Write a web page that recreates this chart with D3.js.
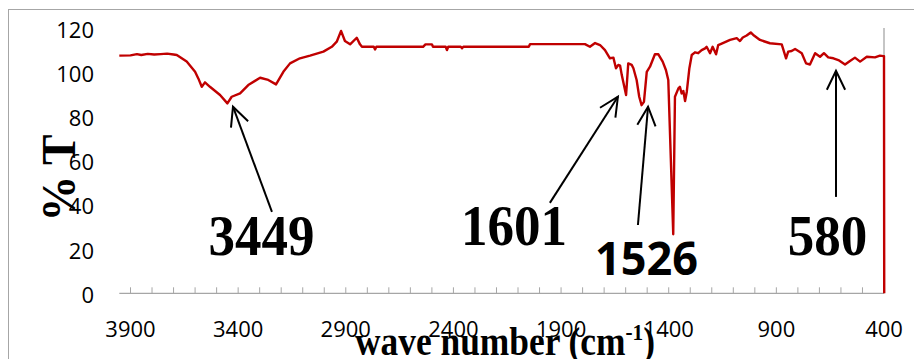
<!DOCTYPE html>
<meta charset="utf-8">
<style>
body { margin: 0; background: #fff; }
.tick-label { font: 22px "Open Sans", sans-serif; fill: #000; }
.title { font-family: "Liberation Serif", "Times New Roman", serif; font-weight: bold; fill: #000; }
</style>
<svg width="914" height="359"></svg>
<script src="https://d3js.org/d3.v7.min.js"></script>
<script>

// spectrum: wave number (cm-1) and % transmittance
var waves = [3952, 3900, 3870, 3850, 3820, 3790, 3760, 3730, 3700, 3685,
  3639, 3600, 3585, 3569, 3554, 3531, 3484, 3450, 3430, 3391,
  3353, 3298, 3260, 3224, 3190, 3159, 3113, 3066, 3004, 2965,
  2942, 2922, 2904, 2880, 2849, 2834, 2825, 2770, 2764, 2758,
  2541, 2530, 2500, 2495, 2436, 2430, 2424, 2366, 2360, 2354,
  2050, 2044, 1789, 1766, 1742, 1719, 1696, 1673, 1657, 1645,
  1634, 1626, 1618, 1598, 1588, 1572, 1564, 1549, 1537, 1526,
  1515, 1502, 1487, 1464, 1448, 1428, 1413, 1402, 1379, 1371,
  1355, 1348, 1340, 1332, 1324, 1316, 1304, 1293, 1278, 1263,
  1247, 1231, 1224, 1208, 1196, 1180, 1170, 1146, 1115, 1084,
  1069, 1056, 1038, 1019, 1004, 976, 930, 875, 855, 845,
  829, 813, 798, 782, 762, 744, 720, 697, 679, 659,
  635, 612, 581, 558, 535, 511, 480, 442, 419, 403,
  400, 399];

var trans = [107.5, 107.6, 108.2, 107.8, 108.3, 108.0, 108.2, 108.4, 108.0, 107.8,
  104.8, 100.2, 97.2, 93.4, 95.4, 93.4, 89.7, 85.9, 88.9, 90.4,
  94.2, 97.5, 96.5, 94.5, 100.2, 104.0, 106.3, 107.5, 109.3, 111.5,
  113.8, 118.7, 114.1, 112.6, 115.6, 112.6, 111.5, 111.5, 110.3, 111.5,
  111.5, 112.6, 112.6, 111.5, 111.5, 110.0, 111.5, 111.5, 110.8, 111.5,
  111.5, 112.7, 112.7, 111.5, 113.2, 112.3, 110.0, 106.3, 106.6, 101.8,
  103.3, 103.0, 98.7, 89.7, 104.0, 103.3, 101.8, 96.5, 88.9, 85.1,
  86.6, 100.2, 102.5, 108.1, 108.1, 104.8, 101.0, 96.5, 26.7, 88.9,
  92.7, 93.4, 90.4, 91.5, 87.0, 91.2, 101.8, 107.8, 109.0, 108.6,
  110.0, 110.8, 111.5, 108.6, 111.5, 108.1, 112.3, 113.3, 114.6, 115.4,
  114.1, 115.7, 116.6, 118.0, 116.6, 114.6, 113.1, 112.6, 106.3, 109.3,
  109.6, 110.5, 109.6, 108.6, 104.0, 103.5, 108.6, 107.0, 108.6, 106.7,
  106.3, 105.5, 103.5, 105.1, 106.6, 104.8, 107.0, 106.7, 107.5, 107.3,
  107.3, 0];

var yTicks = [0, 20, 40, 60, 80, 100, 120];
var xLabels = [3900, 3400, 2900, 2400, 1900, 1400, 900, 400];
var xMinor = d3.range(3900, 399, -100);

// peak labels; arrow head / tail and label anchor in data units
var peakLabels = ["3449", "1601", "1526", "580"];
var headWave = [3424, 1636, 1496, 623];
var headT = [84.4, 88.9, 84.4, 100.6];
var tailWave = [3243, 1952, 1543, 623];
var tailT = [36.8, 40.9, 30.9, 43.6];
var labelWave = [3292, 2119, 1503, 662];
var labelT = [17.3, 21.9, 8.3, 17.2];

var svg = d3.select("svg");

var x = d3.scaleLinear().domain([3900, 400]).range([130.5, 884]);
var y = d3.scaleLinear().domain([0, 120]).range([293.3, 28]);

// chart border (only top and left inside the picture)
svg.append("rect")
  .attr("x", 8.5).attr("y", 9.5)
  .attr("width", 1000).attr("height", 1000)
  .attr("fill", "none").attr("stroke", "#a6a6a6").attr("stroke-width", 1);

// x axis line with inside ticks
svg.append("line")
  .attr("x1", x(waves[0])).attr("x2", x(400))
  .attr("y1", y(0)).attr("y2", y(0))
  .attr("stroke", "#a6a6a6").attr("stroke-width", 1.3);

svg.append("g").selectAll("line")
  .data(xMinor)
  .enter().append("line")
  .attr("x1", function(d) { return x(d); })
  .attr("x2", function(d) { return x(d); })
  .attr("y1", y(0)).attr("y2", y(0) - 6)
  .attr("stroke", "#a6a6a6").attr("stroke-width", 1);

// y axis sits on the right because the x axis is reversed
svg.append("line")
  .attr("x1", x(400)).attr("x2", x(400))
  .attr("y1", y(0)).attr("y2", y(120))
  .attr("stroke", "#a6a6a6").attr("stroke-width", 1.3);

svg.append("g").selectAll("text")
  .data(yTicks)
  .enter().append("text")
  .attr("class", "tick-label")
  .attr("text-anchor", "end")
  .attr("x", 94)
  .attr("y", function(d) { return y(d) + 9.5; })
  .text(function(d) { return d; });

svg.append("g").selectAll("text")
  .data(xLabels)
  .enter().append("text")
  .attr("class", "tick-label")
  .attr("text-anchor", "middle")
  .attr("x", function(d) { return x(d); })
  .attr("y", 337)
  .text(function(d) { return d; });

// spectrum
var pts = waves.map(function(w, i) { return [w, trans[i]]; });
var line = d3.line()
  .x(function(d) { return x(d[0]); })
  .y(function(d) { return y(d[1]); });

svg.append("path")
  .datum(pts)
  .attr("d", line)
  .attr("fill", "none")
  .attr("stroke", "#c00000")
  .attr("stroke-width", 2.4)
  .attr("stroke-linejoin", "round");

// axis titles
svg.append("text")
  .attr("class", "title")
  .attr("transform", "translate(75,178) rotate(-90)")
  .attr("text-anchor", "middle")
  .attr("font-size", 48)
  .attr("textLength", 87)
  .attr("lengthAdjust", "spacingAndGlyphs")
  .text("% T");

var xt = svg.append("text")
  .attr("class", "title")
  .attr("x", 355).attr("y", 355)
  .attr("font-size", 40)
  .attr("textLength", 300)
  .attr("lengthAdjust", "spacingAndGlyphs");
xt.append("tspan").text("wave number (cm");
xt.append("tspan").attr("font-size", 24).attr("dy", -15).text("-1");
xt.append("tspan").attr("dy", 15).text(")");

// arrows and peak labels
var ann = svg.append("g");
peakLabels.forEach(function(lbl, i) {
  var hx = x(headWave[i]), hy = y(headT[i]);
  var tx = x(tailWave[i]), ty = y(tailT[i]);
  var ang = Math.atan2(ty - hy, tx - hx);
  var len = 21, spread = 0.45;
  ann.append("line")
    .attr("x1", tx).attr("y1", ty).attr("x2", hx).attr("y2", hy)
    .attr("stroke", "#000").attr("stroke-width", 2);
  ann.append("polyline")
    .attr("points", [
      [hx + len * Math.cos(ang - spread), hy + len * Math.sin(ang - spread)],
      [hx, hy],
      [hx + len * Math.cos(ang + spread), hy + len * Math.sin(ang + spread)]
    ].join(" "))
    .attr("fill", "none").attr("stroke", "#000").attr("stroke-width", 2);

  var t = ann.append("text")
    .attr("text-anchor", "middle")
    .attr("x", x(labelWave[i]))
    .attr("y", y(labelT[i]))
    .attr("lengthAdjust", "spacingAndGlyphs")
    .text(lbl);
  if (lbl == "1526") {
    t.attr("font-family", "'Open Sans', sans-serif").attr("font-weight", "bold")
      .attr("font-size", 46).attr("textLength", 103);
  } else {
    t.attr("class", "title").attr("font-size", 58)
      .attr("textLength", lbl.length * 26.5);
  }
});

</script>
